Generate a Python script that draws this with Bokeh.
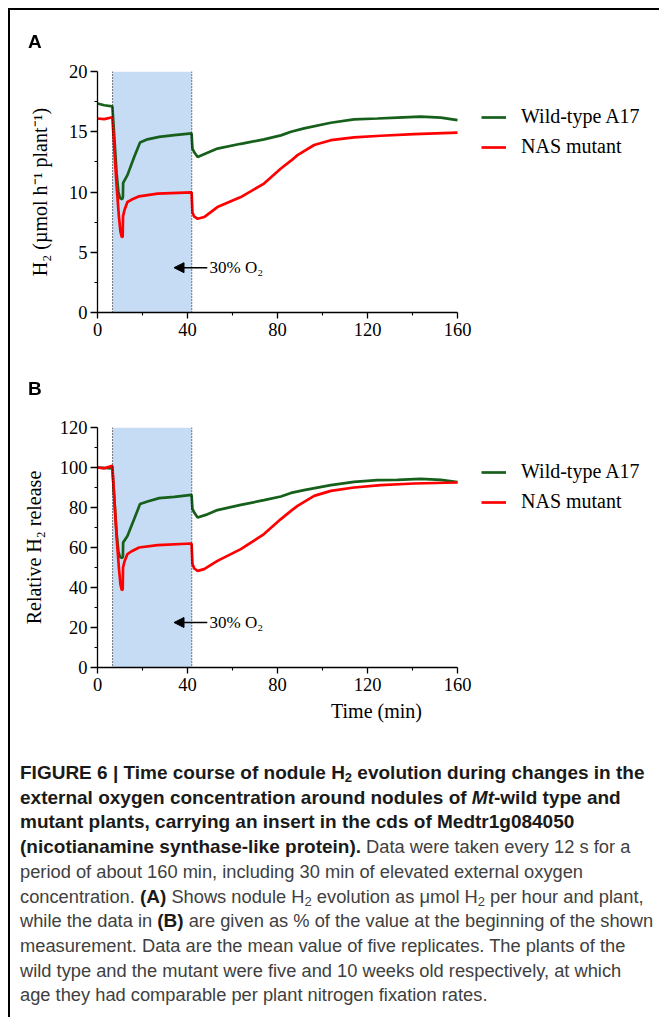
from bokeh.plotting import figure
from bokeh.models import FixedTicker, Legend, LegendItem, Label, Arrow, NormalHead, Span, Div
from bokeh.layouts import column
from bokeh.embed import file_html
from bokeh.resources import INLINE

# ---------------- data ----------------
o2_on = 6.7      # start of elevated O2 (min)
o2_off = 41.9    # end of elevated O2 (min)

x_ticks = [0, 40, 80, 120, 160]
x_minor = [20, 60, 100, 140]

# Panel A: H2 (umol h-1 plant-1)
t_wt = [0, 3, 6.6, 7.5, 8.5, 9.3, 10.0, 11.0, 11.3, 11.4, 13.3, 16.3, 18.9, 22.2, 27.4, 34.1,
        41.8, 42.2, 43.0, 44.5, 48.1, 53.3, 63.7, 74, 81.5, 86, 91.8, 103.7, 114, 124.4,
        133.3, 143.7, 152.6, 160]
a_wt = [17.35, 17.2, 17.1, 14.5, 11.5, 10.0, 9.5, 9.4, 9.6, 10.75, 11.4, 12.9, 14.1, 14.37,
        14.58, 14.72, 14.87, 13.6, 13.3, 12.9, 13.2, 13.6, 14.0, 14.37, 14.7, 15.0, 15.28,
        15.75, 16.03, 16.1, 16.17, 16.25, 16.17, 15.97]

t_nas = [0, 3, 6.6, 7.5, 8.5, 9.5, 10.2, 10.8, 11.2, 11.35, 12, 13.3, 15, 18.5, 26.7, 41.8,
         42.2, 43, 44.5, 47.4, 53.3, 63.7, 74, 81.5, 86, 88.9, 96.3, 103.7, 114, 125.9,
         140.7, 160]
a_nas = [16.1, 16.05, 16.2, 13.5, 10.5, 8.0, 6.7, 6.25, 6.3, 8.0, 8.5, 9.17, 9.35, 9.64,
         9.86, 9.97, 8.3, 7.95, 7.78, 7.92, 8.75, 9.58, 10.7, 11.95, 12.6, 13.06, 13.9, 14.3,
         14.53, 14.67, 14.8, 14.92]

a_ticks = [0, 5, 10, 15, 20]
a_minor = [2.5, 7.5, 12.5, 17.5]

# Panel B: relative H2 release (%)
b_wt = [100, 99.8, 99.6, 84, 67, 58, 55.2, 54.8, 55.5, 62.5, 65.8, 74.2, 81.7, 83, 84.7,
        85.3, 86.3, 79.2, 77.5, 75, 76.3, 78.7, 81.3, 83.7, 85.5, 87.3, 88.7, 91.2, 92.8,
        93.7, 93.8, 94.3, 93.8, 92.7]
b_nas = [100, 99.6, 100.8, 84, 65, 50, 41.5, 38.7, 39, 50, 53, 56.7, 58, 60, 61.2, 62,
         51.7, 49.5, 48.3, 49.2, 53.3, 59.2, 66.7, 74.2, 78.3, 80.8, 85.8, 88.3, 90, 91.2,
         92, 92.5]

b_ticks = [0, 20, 40, 60, 80, 100, 120]
b_minor = [10, 30, 50, 70, 90, 110]

series_names = ["Wild-type A17", "NAS mutant"]
series_colors = ["#16601c", "#ff0000"]

SERIF = "Liberation Serif"
FIG_W = 655
X_END = 248.0   # visible range beyond the 0-160 axis leaves room for the legend


def panel(wt, nas, ymax, yticks, yminor, ylabel, xlabel, height, btop, bbot,
          arrow_y, ylab_standoff, legend_y):
    p = figure(width=FIG_W, height=height, x_range=(0, X_END), y_range=(0, ymax),
               output_backend="svg", toolbar_location=None,
               min_border_left=97, min_border_right=0,
               min_border_top=btop, min_border_bottom=bbot)
    p.outline_line_color = None
    p.grid.visible = False

    # elevated O2 shading
    p.quad(left=[o2_on], right=[o2_off], bottom=[0], top=[ymax],
           fill_color="#c6dcf5", line_color=None)
    for loc in (o2_on, o2_off):
        p.add_layout(Span(location=loc, dimension="height", line_color="black",
                          line_width=1, line_dash="1 2"))

    r_wt = p.line(t_wt, wt, line_color=series_colors[0], line_width=2.7)
    r_nas = p.line(t_nas, nas, line_color=series_colors[1], line_width=2.7)

    # axes
    p.xaxis.ticker = FixedTicker(ticks=x_ticks, minor_ticks=x_minor)
    p.xaxis.bounds = (0, 160)
    p.yaxis.ticker = FixedTicker(ticks=yticks, minor_ticks=yminor)
    for ax in (p.xaxis, p.yaxis):
        ax.axis_line_color = "black"
        ax.axis_line_width = 1.3
        ax.major_tick_line_color = "black"
        ax.minor_tick_line_color = "black"
        ax.major_tick_line_width = 1.3
        ax.minor_tick_line_width = 1.1
        ax.major_tick_in = 0
        ax.minor_tick_in = 0
        ax.minor_tick_out = 3
        ax.major_label_text_font = SERIF
        ax.major_label_text_font_size = "18.5px"
        ax.major_label_text_color = "black"
        ax.axis_label_text_font = SERIF
        ax.axis_label_text_font_size = "20px"
        ax.axis_label_text_font_style = "normal"
        ax.axis_label_text_color = "black"
    p.xaxis.major_tick_out = 6
    p.yaxis.major_tick_out = 7
    p.xaxis.major_label_standoff = 4
    p.yaxis.major_label_standoff = 3
    p.yaxis.axis_label = ylabel
    p.yaxis.axis_label_standoff = ylab_standoff
    if xlabel:
        p.xaxis.axis_label = xlabel
        p.xaxis.axis_label_standoff = 6

    # arrow + O2 annotation
    p.add_layout(Arrow(end=NormalHead(size=10, fill_color="black", line_color="black"),
                       x_start=48.8, y_start=arrow_y, x_end=34.0, y_end=arrow_y,
                       line_color="black", line_width=1.5))
    p.add_layout(Label(x=49.8, y=arrow_y, text="30% O\u2082", text_font=SERIF,
                       text_font_size="17px", text_baseline="middle", text_color="black"))

    legend = Legend(items=[LegendItem(label=series_names[0], renderers=[r_wt]),
                           LegendItem(label=series_names[1], renderers=[r_nas])],
                    location=(384, legend_y), orientation="vertical",
                    label_text_font=SERIF, label_text_font_size="20px",
                    label_text_color="black",
                    glyph_width=25, glyph_height=22, label_height=22,
                    label_standoff=15, spacing=7, padding=10, margin=0,
                    border_line_color=None, background_fill_alpha=0)
    p.add_layout(legend)
    return p


pa = panel(a_wt, a_nas, 20, a_ticks, a_minor,
           "H\u2082 (\u00b5mol h\u207b\u00b9 plant\u207b\u00b9)", None,
           352, 71, 40, 3.72, 15, 154)
pb = panel(b_wt, b_nas, 120, b_ticks, b_minor,
           "Relative H\u2082 release", "Time (min)",
           378, 75, 63, 22.5, 12, 154)

Bs = 'style="color:#1a1a1a;font-weight:bold;font-size:19px"'
lines = [
    f'<span {Bs}>FIGURE 6 | Time course of nodule H<sub>2</sub> evolution during changes in the</span>',
    f'<span {Bs}>external oxygen concentration around nodules of <i>Mt</i>-wild type and</span>',
    f'<span {Bs}>mutant plants, carrying an insert in the cds of Medtr1g084050</span>',
    f'<span {Bs}>(nicotianamine synthase-like protein).</span> Data were taken every 12 s for a',
    'period of about 160 min, including 30 min of elevated external oxygen',
    f'concentration. <span {Bs}>(A)</span> Shows nodule H<sub>2</sub> evolution as \u03bcmol H<sub>2</sub> per hour and plant,',
    f'while the data in <span {Bs}>(B)</span> are given as % of the value at the beginning of the shown',
    'measurement. Data are the mean value of five replicates. The plants of the',
    'wild type and the mutant were five and 10 weeks old respectively, at which',
    'age they had comparable per plant nitrogen fixation rates.',
]
letter_css = ("position:fixed;z-index:20;font-family:'Liberation Sans',Arial,sans-serif;"
              "font-weight:bold;font-size:19px;line-height:19px;color:#000;")
overlay = (
    '<div style="position:fixed;z-index:20;left:8px;top:8px;width:651px;height:2px;background:#000"></div>'
    '<div style="position:fixed;z-index:20;left:8px;top:8px;width:2px;height:1009px;background:#000"></div>'
    f'<div style="{letter_css}left:28px;top:32px;">A</div>'
    f'<div style="{letter_css}left:28px;top:379px;">B</div>'
)
html = (overlay +
        '<div style="margin-top:26px;padding-left:15px;font-family:\'Liberation Sans\',Arial,sans-serif;'
        'font-size:18.3px;line-height:24.7px;color:#404040;white-space:nowrap;">'
        + '<br>'.join(lines) + '</div>')
html = html.replace('<sub>', '<sub style="font-size:13px;line-height:0;vertical-align:-3px">')
cap = Div(text=html, width=FIG_W, height=282)

layout = column(pa, pb, cap, spacing=0)

open("out.html", "w").write(file_html(layout, INLINE))
